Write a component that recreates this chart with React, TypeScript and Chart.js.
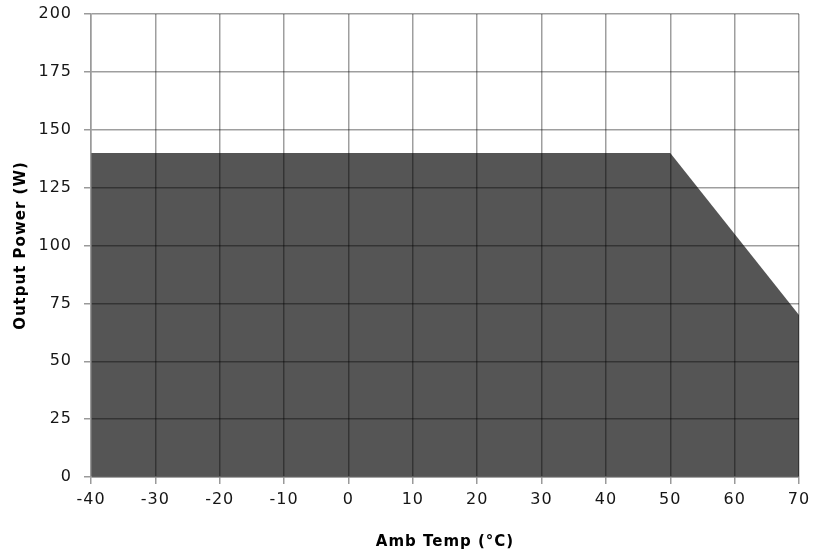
import { useEffect, useRef } from 'react';
import { Chart, registerables } from 'chart.js';

Chart.register(...registerables);

const tempPoints = [-40, 50, 70];
const powerPoints = [140, 140, 70];
const xTicks = [-40, -30, -20, -10, 0, 10, 20, 30, 40, 50, 60, 70];
const yTicks = [0, 25, 50, 75, 100, 125, 150, 175, 200];

const FONT = 'DejaVu Sans';

// the reference text is spaced a little wider than DejaVu
const letterSpacing = {
    id: 'letterSpacing',
    beforeDraw(chart: Chart) {
        (chart.ctx as any).letterSpacing = '1px';
    },
};

export default function App() {
    const canvasRef = useRef<HTMLCanvasElement>(null);
    const chartRef = useRef<Chart | null>(null);

    useEffect(() => {
        document.body.style.margin = '0';
        if (chartRef.current) chartRef.current.destroy();
        if (!canvasRef.current) return;

        chartRef.current = new Chart(canvasRef.current, {
            type: 'scatter',
            data: {
                datasets: [
                    {
                        data: tempPoints.map((t, i) => ({ x: t, y: powerPoints[i] })),
                        showLine: true,
                        fill: 'origin',
                        backgroundColor: '#555555',
                        borderColor: '#555555',
                        borderWidth: 0,
                        pointRadius: 0,
                        tension: 0,
                    },
                ],
            },
            plugins: [letterSpacing],
            options: {
                animation: false,
                responsive: false,
                devicePixelRatio: 1,
                layout: { padding: { top: 14, right: 15, left: 2, bottom: 0 } },
                plugins: { legend: { display: false }, tooltip: { enabled: false } },
                scales: {
                    x: {
                        type: 'linear',
                        min: xTicks[0],
                        max: xTicks[xTicks.length - 1],
                        afterBuildTicks: (s: any) => {
                            s.ticks = xTicks.map((v) => ({ value: v }));
                        },
                        afterFit: (s: any) => {
                            s.height = 82;
                            s.paddingLeft = 0;
                            s.paddingRight = 0;
                        },
                        ticks: {
                            font: { family: FONT, size: 16 },
                            color: '#151515',
                            padding: 6,
                            maxRotation: 0,
                        },
                        grid: {
                            color: 'rgba(0,0,0,0.38)',
                            lineWidth: 1.5,
                            tickColor: '#9a9a9a',
                            tickLength: 7,
                            z: 1,
                        },
                        border: { color: '#9a9a9a', width: 1.5, z: 1 },
                        title: {
                            display: true,
                            text: 'Amb Temp (°C)',
                            font: { family: FONT, size: 15, weight: 'bold' },
                            color: '#000',
                            padding: { top: 2, bottom: 8 },
                        },
                    },
                    y: {
                        type: 'linear',
                        min: yTicks[0],
                        max: yTicks[yTicks.length - 1],
                        afterBuildTicks: (s: any) => {
                            s.ticks = yTicks.map((v) => ({ value: v }));
                        },
                        afterFit: (s: any) => {
                            s.width = 89;
                            s.paddingTop = 0;
                            s.paddingBottom = 0;
                        },
                        ticks: {
                            font: { family: FONT, size: 16 },
                            color: '#151515',
                            padding: 12,
                        },
                        grid: {
                            color: 'rgba(0,0,0,0.38)',
                            lineWidth: 1.5,
                            tickColor: '#9a9a9a',
                            tickLength: 7,
                            z: 1,
                        },
                        border: { color: '#9a9a9a', width: 1.5, z: 1 },
                        title: {
                            display: true,
                            text: 'Output Power (W)',
                            font: { family: FONT, size: 15, weight: 'bold' },
                            color: '#000',
                            padding: { top: 10, bottom: 0 },
                        },
                    },
                },
            },
        });

        return () => {
            if (chartRef.current) {
                chartRef.current.destroy();
                chartRef.current = null;
            }
        };
    }, []);

    return (
        <div style={{ width: 814, height: 559 }}>
            <canvas ref={canvasRef} width={814} height={559}></canvas>
        </div>
    );
}
